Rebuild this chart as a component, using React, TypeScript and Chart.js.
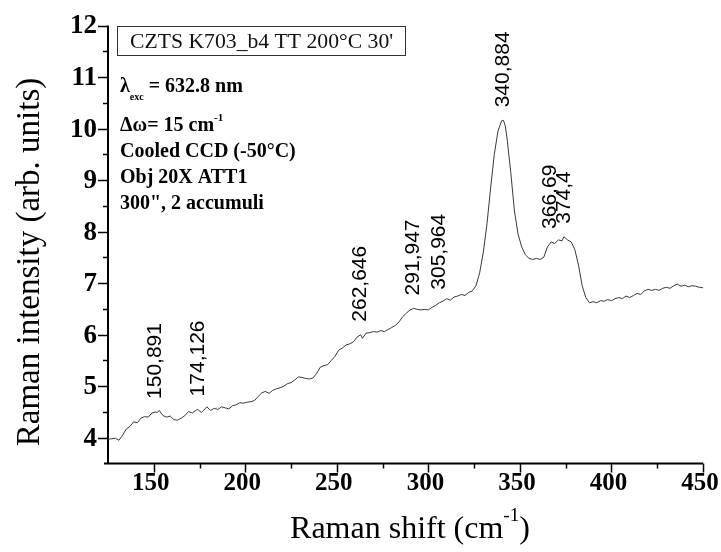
import React, { useEffect, useRef } from 'react';
import { Chart, registerables } from 'chart.js';

Chart.register(...registerables);

// ---- data ----
const shiftValues = [
  125, 127, 129, 131, 133, 135, 137, 139, 141, 143, 145, 147, 149, 151, 152, 153, 155, 157, 159, 161,
  163, 165, 167, 169, 171, 173, 174, 176, 178, 179, 181, 183, 185, 187, 189, 191, 193, 195, 197, 199,
  201, 203, 205, 207, 209, 211, 213, 215, 217, 219, 221, 223, 225, 227, 229, 231, 233, 235, 237, 239,
  241, 243, 245, 247, 249, 251, 253, 255, 257, 259, 261, 263, 264, 266, 268, 270, 272, 274, 276, 278,
  280, 282, 284, 286, 288, 290, 292, 294, 296, 298, 300, 302, 304, 306, 308, 310, 312, 314, 316, 318,
  320, 322, 324, 326, 328, 330, 332, 334, 336, 338, 340, 341, 342, 343, 345, 347, 349, 351, 353, 355,
  357, 359, 361, 363, 365, 367, 369, 371, 373, 374, 376, 378, 380, 382, 384, 386, 388, 390, 392, 394,
  396, 398, 400, 402, 404, 406, 408, 410, 412, 414, 416, 418, 420, 422, 424, 426, 428, 430, 432, 434,
  436, 438, 440, 442, 444, 446, 448, 450,
];
const intensityValues = [
  3.97, 3.98, 3.99, 3.95, 4.05, 4.17, 4.22, 4.31, 4.29, 4.38, 4.41, 4.40, 4.48, 4.50, 4.49, 4.53, 4.43, 4.40, 4.42, 4.35,
  4.34, 4.38, 4.43, 4.51, 4.48, 4.53, 4.55, 4.49, 4.56, 4.60, 4.53, 4.57, 4.55, 4.60, 4.58, 4.56, 4.62, 4.64, 4.68, 4.67,
  4.69, 4.70, 4.72, 4.80, 4.87, 4.90, 4.86, 4.92, 4.95, 4.97, 5.00, 5.05, 5.07, 5.12, 5.18, 5.17, 5.15, 5.14, 5.16, 5.25,
  5.37, 5.40, 5.42, 5.50, 5.58, 5.70, 5.74, 5.80, 5.82, 5.86, 5.95, 6.00, 5.93, 6.03, 6.04, 6.06, 6.05, 6.08, 6.06, 6.10,
  6.14, 6.18, 6.25, 6.35, 6.42, 6.48, 6.51, 6.49, 6.48, 6.49, 6.48, 6.53, 6.57, 6.62, 6.65, 6.70, 6.67, 6.73, 6.75, 6.78,
  6.76, 6.82, 6.85, 6.95, 7.20, 7.60, 8.15, 8.85, 9.50, 9.95, 10.15, 10.16, 10.05, 9.80, 9.15, 8.40, 7.95, 7.70, 7.55, 7.48,
  7.46, 7.48, 7.46, 7.50, 7.70, 7.80, 7.77, 7.84, 7.82, 7.90, 7.84, 7.80, 7.65, 7.35, 6.95, 6.72, 6.62, 6.64, 6.62, 6.66,
  6.65, 6.68, 6.66, 6.70, 6.72, 6.70, 6.75, 6.72, 6.76, 6.80, 6.78, 6.85, 6.88, 6.86, 6.88, 6.86, 6.90, 6.92, 6.90, 6.95,
  6.98, 6.94, 6.96, 6.93, 6.95, 6.94, 6.92, 6.91,
];

const peakPositions = [150.891, 174.126, 262.646, 291.947, 305.964, 340.884, 366.69, 374.4];
const peakLabels = ['150,891', '174,126', '262,646', '291,947', '305,964', '340,884', '366,69', '374,4'];

const xMajorTicks = [150, 200, 250, 300, 350, 400, 450];
const xMinorTicks = [175, 225, 275, 325, 375, 425];
const yMajorTicks = [4, 5, 6, 7, 8, 9, 10, 11, 12];
const yMinorTicks = [4.5, 5.5, 6.5, 7.5, 8.5, 9.5, 10.5, 11.5];

const xTitle = 'Raman shift (cm';
const xTitleSup = '-1';
const yTitle = 'Raman intensity (arb. units)';
const sampleTitle = "CZTS K703_b4 TT 200°C 30'";

const SERIF = '"Liberation Serif", "Times New Roman", serif';
const SANS = '"Liberation Sans", Arial, sans-serif';

type Seg = { t: string; size: number; dy: number };

function drawSegs(ctx: CanvasRenderingContext2D, segs: Seg[], x: number, y: number, weight: string) {
  let cx = x;
  for (const s of segs) {
    ctx.font = `${weight} ${s.size}px ${SERIF}`;
    ctx.fillText(s.t, cx, y + s.dy);
    cx += ctx.measureText(s.t).width;
  }
}

const ramanPlugin = {
  id: 'ramanDecor',
  beforeDatasetsDraw(chart: any) {
    const ctx: CanvasRenderingContext2D = chart.ctx;
    const xs = chart.scales.x;
    const ys = chart.scales.y;
    const area = chart.chartArea;
    ctx.save();
    ctx.strokeStyle = '#000';
    ctx.fillStyle = '#000';
    ctx.lineWidth = 2;
    // axes
    ctx.beginPath();
    ctx.moveTo(area.left, area.top);
    ctx.lineTo(area.left, area.bottom);
    ctx.moveTo(area.left - 4, area.bottom);
    ctx.lineTo(area.right, area.bottom);
    ctx.stroke();
    // ticks
    ctx.lineWidth = 1.5;
    ctx.beginPath();
    for (const v of xMajorTicks) {
      const px = Math.round(xs.getPixelForValue(v)) + 0.5;
      ctx.moveTo(px, area.bottom);
      ctx.lineTo(px, area.bottom + 9);
    }
    for (const v of xMinorTicks) {
      const px = Math.round(xs.getPixelForValue(v)) + 0.5;
      ctx.moveTo(px, area.bottom);
      ctx.lineTo(px, area.bottom + 5);
    }
    for (const v of yMajorTicks) {
      const py = Math.round(ys.getPixelForValue(v)) + 0.5;
      ctx.moveTo(area.left, py);
      ctx.lineTo(area.left - 10, py);
    }
    for (const v of yMinorTicks) {
      const py = Math.round(ys.getPixelForValue(v)) + 0.5;
      ctx.moveTo(area.left, py);
      ctx.lineTo(area.left - 5, py);
    }
    ctx.stroke();
    // tick labels
    ctx.font = `bold 25px ${SERIF}`;
    ctx.textAlign = 'center';
    ctx.textBaseline = 'alphabetic';
    for (const v of xMajorTicks) {
      ctx.fillText(String(v), xs.getPixelForValue(v) - 3, area.bottom + 26);
    }
    ctx.font = `bold 27px ${SERIF}`;
    ctx.textAlign = 'right';
    ctx.textBaseline = 'middle';
    for (const v of yMajorTicks) {
      ctx.fillText(String(v), area.left - 11, ys.getPixelForValue(v) + 1);
    }
    // x title
    ctx.textAlign = 'left';
    ctx.textBaseline = 'alphabetic';
    const xs1 = 32;
    ctx.font = `normal ${xs1}px ${SERIF}`;
    const w1 = ctx.measureText(xTitle).width;
    const w3 = ctx.measureText(')').width;
    ctx.font = `normal ${xs1 * 0.6}px ${SERIF}`;
    const w2 = ctx.measureText(xTitleSup).width;
    const total = w1 + w2 + w3;
    const startX = 410 - total / 2;
    drawSegs(ctx, [
      { t: xTitle, size: xs1, dy: 0 },
      { t: xTitleSup, size: xs1 * 0.6, dy: -17 },
      { t: ')', size: xs1, dy: 0 },
    ], startX, 538, 'normal');
    // y title
    ctx.save();
    ctx.translate(39, 262);
    ctx.rotate(-Math.PI / 2);
    ctx.font = `normal 33px ${SERIF}`;
    ctx.textAlign = 'center';
    ctx.textBaseline = 'alphabetic';
    ctx.fillText(yTitle, 0, 0);
    ctx.restore();
    ctx.restore();
  },
  afterDatasetsDraw(chart: any) {
    const ctx: CanvasRenderingContext2D = chart.ctx;
    const xs = chart.scales.x;
    const ys = chart.scales.y;
    ctx.save();
    ctx.fillStyle = '#000';
    // peak labels
    ctx.font = `normal 21px ${SANS}`;
    ctx.textAlign = 'left';
    ctx.textBaseline = 'middle';
    peakPositions.forEach((p, i) => {
      let best = 0;
      for (let k = 0; k < shiftValues.length; k++) {
        if (Math.abs(shiftValues[k] - p) < Math.abs(shiftValues[best] - p)) best = k;
      }
      const px = xs.getPixelForValue(p);
      const py = ys.getPixelForValue(intensityValues[best]);
      ctx.save();
      ctx.translate(px, py - 13);
      ctx.rotate(-Math.PI / 2);
      ctx.fillText(peakLabels[i], 0, 0);
      ctx.restore();
    });
    // sample box
    ctx.strokeStyle = '#333';
    ctx.lineWidth = 1;
    ctx.strokeRect(117.5, 26.5, 288, 29);
    ctx.font = `normal 21.7px ${SERIF}`;
    ctx.textAlign = 'left';
    ctx.textBaseline = 'alphabetic';
    ctx.fillStyle = '#111';
    ctx.fillText(sampleTitle, 130, 48);
    // info text
    ctx.fillStyle = '#000';
    drawSegs(ctx, [
      { t: 'λ', size: 20, dy: 0 },
      { t: 'exc', size: 10, dy: 8 },
      { t: ' = 632.8 nm', size: 20, dy: 0 },
    ], 120, 92, 'bold');
    drawSegs(ctx, [
      { t: 'Δω= 15 cm', size: 20, dy: 0 },
      { t: '-1', size: 11, dy: -10 },
    ], 120, 131, 'bold');
    drawSegs(ctx, [{ t: 'Cooled CCD (-50°C)', size: 20, dy: 0 }], 120, 157, 'bold');
    drawSegs(ctx, [{ t: 'Obj 20X ATT1', size: 20, dy: 0 }], 120, 183, 'bold');
    drawSegs(ctx, [{ t: '300", 2 accumuli', size: 20, dy: 0 }], 120, 209, 'bold');
    ctx.restore();
  },
};

export default function App() {
  const ref = useRef<HTMLCanvasElement | null>(null);
  useEffect(() => {
    if (!ref.current) return;
    const chart = new Chart(ref.current, {
      type: 'line',
      data: {
        datasets: [
          {
            data: shiftValues.map((x, i) => ({ x, y: intensityValues[i] })),
            borderColor: '#3a3a3a',
            borderWidth: 1,
            pointRadius: 0,
            tension: 0,
            fill: false,
          },
        ],
      },
      options: {
        animation: false,
        responsive: false,
        layout: { padding: { left: 108, top: 25.5, right: 18, bottom: 88.5 } },
        plugins: { legend: { display: false }, tooltip: { enabled: false } },
        scales: {
          x: { type: 'linear', min: 125, max: 450, display: false },
          y: { type: 'linear', min: 3.5, max: 12, display: false },
        },
      },
      plugins: [ramanPlugin],
    });
    return () => chart.destroy();
  }, []);
  return (
    <div style={{ position: 'absolute', left: 0, top: 0, width: 721, height: 552, background: '#fff' }}>
      <canvas ref={ref} width={721} height={552} style={{ display: 'block' }} />
    </div>
  );
}
